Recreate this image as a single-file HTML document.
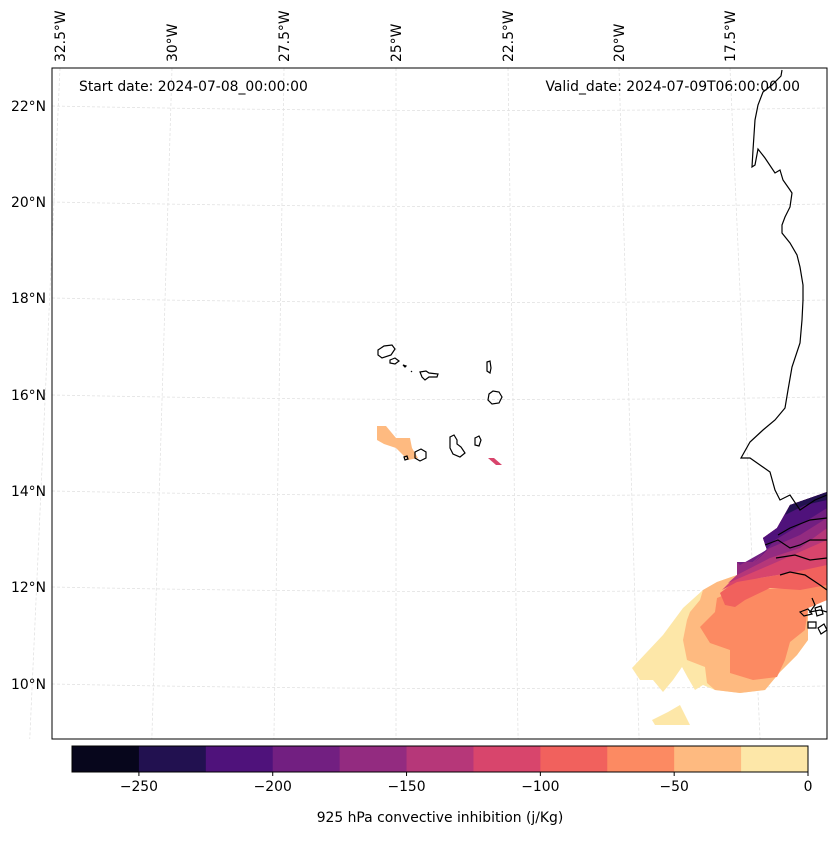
<!DOCTYPE html>
<html><head><meta charset="utf-8"><style>
body{margin:0;background:#fff;}
svg text{font-family:"DejaVu Sans","Liberation Sans",sans-serif;font-size:13.9px;fill:#000;}
</style></head><body>
<svg id="chart" width="837" height="836" viewBox="0 0 837 836" xmlns="http://www.w3.org/2000/svg">
<g id="grid"></g>
<g id="field">
 <polygon fill="#fde7a8" points="632,668 663,635 683,608 703,590 717,582 737,575 737,562 753,562 767,550 763,538 777,528 790,505 827,492 827,600 808,608 808,640 797,655 780,672 765,690 740,693 715,690 703,685 695,690 688,678 682,667 673,680 663,692 653,680 640,680"/>
 <polygon fill="#fde7a8" points="652,720 668,712 680,705 690,725 655,725"/>
 <polygon fill="#feba80" points="683,640 687,620 690,612 700,600 703,590 717,582 737,575 737,562 753,562 767,550 763,538 777,528 790,505 827,492 827,600 808,608 808,640 797,655 780,672 765,690 740,693 715,690 707,683 705,667 687,660"/>
 <polygon fill="#fc8a62" points="700,627 715,612 717,598 737,590 800,588 827,580 827,600 808,608 805,630 790,642 785,660 777,677 753,680 730,673 730,650 710,643"/>
 <polygon fill="#f1615d" points="720,593 737,580 760,578 790,573 827,560 827,585 800,590 770,588 745,600 735,607 725,605"/>
 <polygon fill="#d8456c" points="722,590 737,575 737,562 753,562 767,550 763,538 777,528 790,505 827,492 827,565 790,573 760,578 737,582"/>
 <polygon fill="#b63779" points="728,583 737,575 737,562 753,562 767,550 763,538 777,528 790,505 827,492 827,540 770,565"/>
 <polygon fill="#932b80" points="735,576 737,575 737,562 753,562 767,550 763,538 777,528 790,505 827,492 827,528 800,548 770,558"/>
 <polygon fill="#721f81" points="740,565 737,562 753,562 767,550 763,538 777,528 790,505 827,492 827,518 800,535 770,548"/>
 <polygon fill="#4f127b" points="755,562 767,550 763,538 777,528 790,505 827,492 827,508 800,525 775,540"/>
 <polygon fill="#221150" points="785,515 790,505 827,492 827,500 805,505"/>
 <polygon fill="#feba80" points="377,426 386,426 396,438 410,438 412,448 418,458 408,460 396,448 384,444 377,440"/>
 <polygon fill="#d8456c" points="488,458 494,458 502,465 496,465"/>
</g>
<g id="coast" fill="none" stroke="#000" stroke-width="1.2">
 <polyline points="782,70 781,76 772,85 763,92 758,105 755,120 754,135 753,150 752,167 755,165 758,149 765,158 775,173 780,170 783,180 790,190 792,193 790,207 785,217 782,225 782,233 790,243 797,255 800,267 803,285 803,300 802,320 800,343 792,367 788,390 785,408 775,420 763,430 750,442 741,458 750,458 760,465 770,472 775,490 780,500 790,495 800,510 815,500 827,495"/>
 <polyline points="778,535 790,528 810,520 827,518"/>
 <polyline points="776,558 795,555 810,560 827,558"/>
 <polyline points="780,575 790,572 805,575 820,585 827,590"/>
 <polyline points="812,598 815,605 810,612 820,610 827,612"/>
 <polyline points="765,545 778,540 790,548 800,545 810,540 827,540"/>
 <path d="M800 612 l8 -3 l4 5 l-8 2 z M815 608 l6 -2 l2 8 l-6 2 z M808 622 l8 0 l0 6 l-8 0 z M818 628 l6 -4 l3 6 l-6 4 z"/>
 <path d="M378 350 l6 -4 l8 -1 l3 4 l-4 6 l-9 3 l-4 -3 z"/>
 <path d="M390 360 l5 -2 l4 3 l-4 3 l-5 -1 z"/>
 <path d="M403 365 l3 1 l-1 1 z M411 371 l1 1 z"/>
 <path d="M420 372 l6 -1 l3 2 l9 1 l-1 3 l-8 0 l-4 3 l-3 -3 z"/>
 <path d="M487 362 l3 -1 l1 7 l-1 5 l-3 -2 z"/>
 <path d="M489 394 l4 -3 l6 1 l3 5 l-3 6 l-7 1 l-4 -4 z"/>
 <path d="M450 437 l4 -2 l3 5 l0 4 l4 3 l4 6 l-5 4 l-7 -3 l-3 -6 z"/>
 <path d="M475 438 l4 -2 l2 4 l-2 6 l-4 -1 z"/>
 <path d="M415 452 l6 -3 l5 3 l0 6 l-6 3 l-5 -3 z"/>
 <path d="M404 457 l3 -1 l1 3 l-3 1 z"/>
</g>
<rect x="52" y="68" width="775" height="671" fill="none" stroke="#000" stroke-width="1"/>
<g id="labels"></g>
<text x="79" y="91">Start date: 2024-07-08_00:00:00</text>
<text x="800" y="91" text-anchor="end">Valid_date: 2024-07-09T06:00:00.00</text>
<g id="cbar"></g>
<text x="440" y="822" text-anchor="middle">925 hPa convective inhibition (j/Kg)</text>
</svg>
<script>
const lonLabels=["32.5°W","30°W","27.5°W","25°W","22.5°W","20°W","17.5°W"];
const lonTopX=[60,172,284,396,508,619,730];
const latLabels=["22°N","20°N","18°N","16°N","14°N","12°N","10°N"];
const latLeftY=[106,202,298,395,491,587,684];
const cbarLevels=[-275,-250,-225,-200,-175,-150,-125,-100,-75,-50,-25,0];
const cbarColors=["#07061c","#221150","#4f127b","#721f81","#932b80","#b63779","#d8456c","#f1615d","#fc8a62","#feba80","#fde7a8"];
const cbarTicks=[-250,-200,-150,-100,-50,0];
const NS="http://www.w3.org/2000/svg";
function mk(t,a,p){const e=document.createElementNS(NS,t);for(const k in a)e.setAttribute(k,a[k]);p.appendChild(e);return e;}
const grid=document.getElementById('grid'),labels=document.getElementById('labels'),cbar=document.getElementById('cbar');
lonTopX.forEach((x,i)=>{
  const xb=396+(x-396)*1.09;
  const l=mk('line',{x1:x,y1:68,x2:xb,y2:739,stroke:'#e2e2e2','stroke-width':0.8,'stroke-dasharray':'3,2'},grid);
  
  
  const t=mk('text',{transform:`translate(${x+5},62) rotate(-90)`},labels);
  t.textContent=lonLabels[i];
  
  
});
latLeftY.forEach((y,i)=>{
  const p=mk('path',{d:`M52 ${y} Q440 ${y+8} 827 ${y+2}`,fill:'none',stroke:'#e2e2e2','stroke-width':0.8,'stroke-dasharray':'3,2'},grid);
  
  
  const t=mk('text',{x:46,y:y+5,'text-anchor':'end'},labels);
  t.textContent=latLabels[i];
  
  
});
const cx0=72,cx1=808,cy=746,ch=26;
const sx=v=>cx0+(v-cbarLevels[0])/(cbarLevels[cbarLevels.length-1]-cbarLevels[0])*(cx1-cx0);
cbarColors.forEach((c,i)=>{
  const r=mk('rect',{x:sx(cbarLevels[i]),y:cy,width:sx(cbarLevels[i+1])-sx(cbarLevels[i])+0.5,height:ch,fill:c},cbar);
  
  
});
const fr=mk('rect',{x:cx0,y:cy,width:cx1-cx0,height:ch,fill:'none',stroke:'#000','stroke-width':1},cbar);


cbarTicks.forEach(v=>{
  const x=sx(v);
  const tk=mk('line',{x1:x,y1:cy+ch,x2:x,y2:cy+ch+4,stroke:'#000'},cbar);
  
  
  const t=mk('text',{x:x,y:cy+ch+19,'text-anchor':'middle'},cbar);
  t.textContent=v<0?'−'+Math.abs(v):String(v);
  
  
});
</script>
</body></html>
